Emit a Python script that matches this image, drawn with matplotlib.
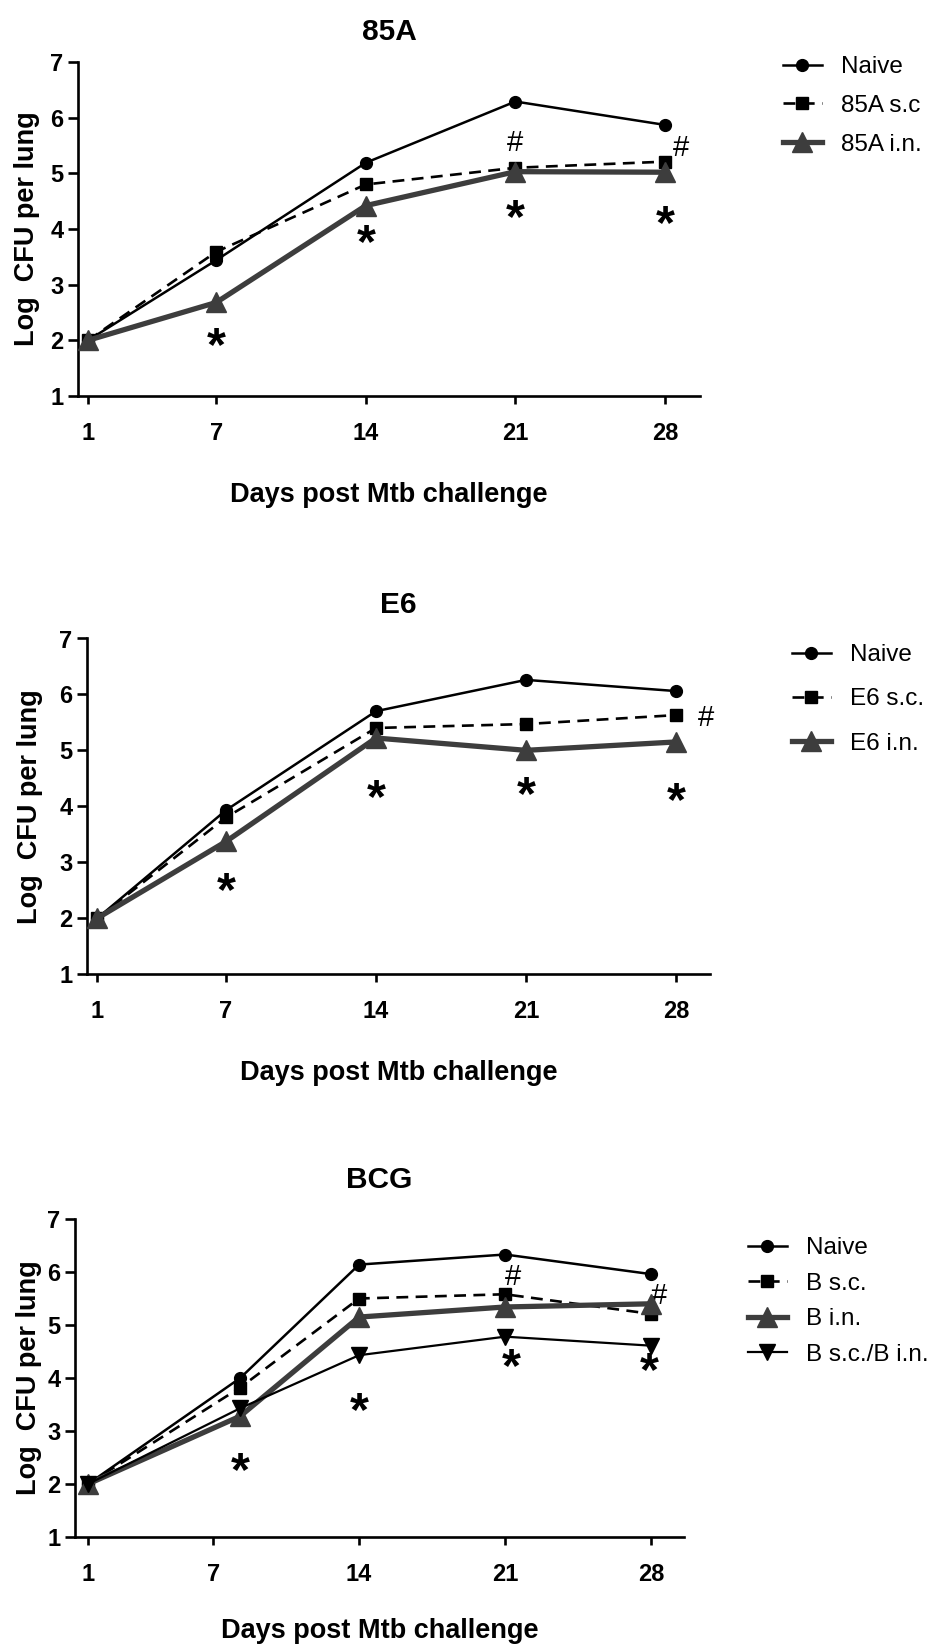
import matplotlib
matplotlib.use("Agg")
import matplotlib.pyplot as plt

plt.rcParams['font.family'] = ['Liberation Sans', 'DejaVu Sans']

# ---------------- data ----------------
days = [1, 7, 14, 21, 28]
bcg_days = [1, 8.3, 14, 21, 28]
tick_days = [1, 7, 14, 21, 28]
tick_labels = ['1', '7', '14', '21', '28']
y_ticks = [1, 2, 3, 4, 5, 6, 7]

# 85A panel
naive_85a = [2.0, 3.44, 5.19, 6.29, 5.87]
sc_85a = [2.0, 3.59, 4.80, 5.10, 5.21]
in_85a = [2.0, 2.68, 4.42, 5.03, 5.02]
labels_85a = ['Naive', '85A s.c', '85A i.n.']
star_x_85a = [7, 14, 21, 28]
star_y_85a = [2.13, 3.98, 4.44, 4.32]
hash_x_85a = [21, 28.75]
hash_y_85a = [5.59, 5.50]

# E6 panel
naive_e6 = [2.0, 3.93, 5.70, 6.26, 6.06]
sc_e6 = [2.0, 3.80, 5.40, 5.47, 5.63]
in_e6 = [2.0, 3.37, 5.22, 5.00, 5.15]
labels_e6 = ['Naive', 'E6 s.c.', 'E6 i.n.']
star_x_e6 = [7, 14, 21, 28]
star_y_e6 = [2.72, 4.38, 4.44, 4.33]
hash_x_e6 = [29.4]
hash_y_e6 = [5.62]

# BCG panel
naive_bcg = [2.0, 4.00, 6.14, 6.33, 5.96]
sc_bcg = [2.0, 3.82, 5.50, 5.58, 5.21]
in_bcg = [2.0, 3.28, 5.15, 5.34, 5.40]
scin_bcg = [2.0, 3.43, 4.43, 4.78, 4.61]
labels_bcg = ['Naive', 'B s.c.', 'B i.n.', 'B s.c./B i.n.']
star_x_bcg = [8.3, 14, 21.3, 27.9]
star_y_bcg = [2.50, 3.63, 4.45, 4.38]
hash_x_bcg = [21.4, 28.4]
hash_y_bcg = [5.95, 5.60]

titles = ['85A', 'E6', 'BCG']

# ---------------- layout (pixels) ----------------
W, H = 938, 1644
fig = plt.figure(figsize=(W / 100, H / 100), dpi=100)

def make_axes(left, right, top, bottom):
    return fig.add_axes([left / W, 1 - bottom / H, (right - left) / W, (bottom - top) / H])

GRAY = '#3d3d3d'
LW_SPINE = 1.9

def style_axes(ax, xlim, title, title_y, xlabel_y, ylabel_x):
    ax.set_xlim(*xlim)
    ax.set_ylim(1, 7)
    for s in ['top', 'right']:
        ax.spines[s].set_visible(False)
    for s in ['left', 'bottom']:
        ax.spines[s].set_linewidth(LW_SPINE)
    ax.set_xticks(tick_days)
    ax.set_xticklabels(tick_labels)
    ax.set_yticks(y_ticks)
    ax.tick_params(axis='both', direction='out', width=LW_SPINE, labelsize=17)
    ax.tick_params(axis='x', length=6, pad=13)
    ax.tick_params(axis='y', length=7, pad=3.5)
    for lab in ax.get_xticklabels() + ax.get_yticklabels():
        lab.set_fontweight('bold')
    ax.set_ylabel('Log  CFU per lung', fontsize=19.5, fontweight='bold')
    ax.yaxis.label.set_verticalalignment('center')
    ax.yaxis.set_label_coords(ylabel_x, 0.5)
    ax.set_xlabel('Days post Mtb challenge', fontsize=19.5, fontweight='bold')
    ax.xaxis.label.set_verticalalignment('center')
    ax.xaxis.set_label_coords(0.5, xlabel_y)
    ax.text(0.5, title_y, title, transform=ax.transAxes, ha='center', va='center',
            fontsize=21.5, fontweight='bold')


def annotate(ax, xs, ys, sym):
    if sym == '*':
        fs, off, weight = 35, 0.56, 'bold'
    else:
        fs, off, weight = 21, 0.36, 'normal'
    for x, y in zip(xs, ys):
        ax.annotate(sym, xy=(x, y), xytext=(0, -off * fs), textcoords='offset points',
                    ha='center', va='baseline', fontsize=fs, fontweight=weight, color='black')


def plot_naive(ax, x, y, label):
    ax.plot(x, y, color='black', lw=1.8, marker='o', ms=8.5, label=label, zorder=3)

def plot_sc(ax, x, y, label):
    ax.plot(x, y, color='black', lw=1.9, ls=(0, (4.5, 2.8)), marker='s', ms=8, label=label, zorder=4)

def plot_in(ax, x, y, label):
    ax.plot(x, y, color=GRAY, lw=3.8, marker='^', ms=14.5, label=label, zorder=5)

def plot_scin(ax, x, y, label):
    ax.plot(x, y, color='black', lw=1.6, marker='v', ms=12, label=label, zorder=6)


def add_legend(ax, x_px, top_px, spacing):
    ax.legend(loc='upper left', bbox_to_anchor=(x_px / W, 1 - top_px / H),
              bbox_transform=fig.transFigure, frameon=False, fontsize=17.5,
              handlelength=1.6, handletextpad=0.8, labelspacing=spacing,
              borderpad=0, borderaxespad=0)

# ---- panel 1: 85A ----
ax1 = make_axes(78, 700, 62, 396)
plot_naive(ax1, days, naive_85a, labels_85a[0])
plot_sc(ax1, days, sc_85a, labels_85a[1])
plot_in(ax1, days, in_85a, labels_85a[2])
style_axes(ax1, (0.532, 29.64), titles[0], 1.09, -0.296, -0.082)
annotate(ax1, star_x_85a, star_y_85a, '*')
annotate(ax1, hash_x_85a, hash_y_85a, '#')
add_legend(ax1, 783, 56, 0.69)

# ---- panel 2: E6 ----
ax2 = make_axes(87, 710, 638.5, 974)
plot_naive(ax2, days, naive_e6, labels_e6[0])
plot_sc(ax2, days, sc_e6, labels_e6[1])
plot_in(ax2, days, in_e6, labels_e6[2])
style_axes(ax2, (0.51, 29.59), titles[1], 1.10, -0.295, -0.0915)
annotate(ax2, star_x_e6, star_y_e6, '*')
annotate(ax2, hash_x_e6, hash_y_e6, '#')
add_legend(ax2, 792, 644, 0.92)

# ---- panel 3: BCG ----
ax3 = make_axes(75, 684, 1219, 1537)
plot_naive(ax3, bcg_days, naive_bcg, labels_bcg[0])
plot_sc(ax3, bcg_days, sc_bcg, labels_bcg[1])
plot_in(ax3, bcg_days, in_bcg, labels_bcg[2])
plot_scin(ax3, bcg_days, scin_bcg, labels_bcg[3])
style_axes(ax3, (0.376, 29.58), titles[2], 1.123, -0.296, -0.0755)
annotate(ax3, star_x_bcg, star_y_bcg, '*')
annotate(ax3, hash_x_bcg, hash_y_bcg, '#')
add_legend(ax3, 748, 1237, 0.56)

fig.savefig('out.png', dpi=100)
